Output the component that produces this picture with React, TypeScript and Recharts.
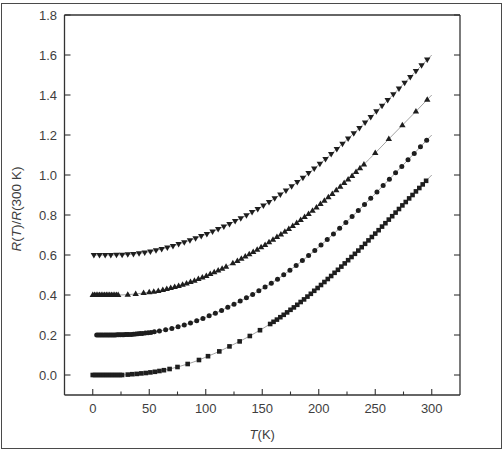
import React from 'react';
import { ComposedChart, Line, XAxis, YAxis } from 'recharts';

// ---------- data (T in K, R(T)/R(300 K) + offset) ----------
const X_TICKS = [0, 25, 50, 75, 100, 125, 150, 175, 200, 225, 250, 275, 300];
const Y_TICKS = [0, 0.2, 0.4, 0.6, 0.8, 1.0, 1.2, 1.4, 1.6, 1.8];
const X_DOMAIN: [number, number] = [-25, 325];
const Y_DOMAIN: [number, number] = [-0.1, 1.8];

// the last pair of each series (T = 300) is the end of the fitted line only
const SQUARES: [number, number][] = [
  [0, 0], [2, 0], [4, 0], [6, 0], [8, 0], [10, 0], [12, 0], [14, 0], [16, 0], [18, 0], [20, 0], [22, 0], [24, 0], [26, 0],
  [31, 0.002], [35, 0.004], [39, 0.0055], [43, 0.008], [47, 0.01], [51, 0.013], [55, 0.016], [59, 0.02], [63, 0.024], [68, 0.03],
  [75, 0.04], [84, 0.055], [94, 0.075], [102, 0.094], [112, 0.118], [121, 0.143], [130, 0.168], [139, 0.195], [148, 0.224], [157, 0.255],
  [160, 0.266], [163, 0.277], [166, 0.289], [169, 0.301], [172, 0.313], [175, 0.326], [178, 0.338], [181, 0.351], [184, 0.365], [187, 0.378],
  [190, 0.392], [193, 0.406], [196, 0.421], [199, 0.435], [202, 0.45], [205, 0.465], [208, 0.48], [211, 0.495], [214, 0.511], [217, 0.526],
  [220, 0.542], [223, 0.558], [226, 0.574], [229, 0.59], [232, 0.606], [235, 0.622], [238, 0.639], [241, 0.656], [244, 0.673], [247, 0.69],
  [250, 0.707], [253, 0.724], [256, 0.742], [259, 0.759], [262, 0.777], [265, 0.794], [268, 0.812], [271, 0.83], [274, 0.848], [277, 0.865],
  [280, 0.883], [283, 0.9], [286, 0.918], [289, 0.935], [292, 0.953], [295, 0.971], [300, 1.0],
];

const CIRCLES: [number, number][] = [
  [3.5, 0.2], [5, 0.2], [6.5, 0.2], [8, 0.2], [9.5, 0.2], [11, 0.2], [12.5, 0.2], [14, 0.2], [15.5, 0.2], [17, 0.2],
  [18.5, 0.2], [20, 0.2005], [21.5, 0.201], [23, 0.201], [24.5, 0.201], [26, 0.2015], [27.5, 0.2015], [29, 0.202], [30.5, 0.202], [32, 0.203],
  [34, 0.203], [36, 0.204], [38, 0.205], [40, 0.206], [42, 0.207], [44, 0.208], [46.5, 0.21], [49, 0.211], [51.5, 0.213], [54.5, 0.216],
  [59, 0.22], [64.5, 0.226], [70, 0.233], [75.5, 0.241], [81, 0.25], [86.5, 0.26], [92, 0.271], [97.5, 0.283], [103, 0.296], [108.5, 0.309],
  [114, 0.323], [119.5, 0.339], [125, 0.354], [130.5, 0.37], [136, 0.386], [141.5, 0.403], [147, 0.421], [152.5, 0.44], [158, 0.459], [163.5, 0.479],
  [169, 0.501], [174.5, 0.524], [180, 0.547], [185.5, 0.572], [191, 0.597], [196.5, 0.623], [202, 0.65], [207.5, 0.677], [213, 0.705], [218.5, 0.734],
  [224, 0.763], [229.5, 0.792], [235, 0.822], [240.5, 0.853], [246, 0.884], [251.5, 0.915], [257, 0.947], [262.5, 0.979], [268, 1.011], [273.5, 1.043],
  [279, 1.076], [284.5, 1.108], [290, 1.141], [295.5, 1.174], [300, 1.2],
];

const UP_TRIANGLES: [number, number][] = [
  [0, 0.4], [1.5, 0.4], [3, 0.4], [4.5, 0.4], [6, 0.4], [7.5, 0.4], [9, 0.4], [10.5, 0.4], [12, 0.4], [13.5, 0.4],
  [15, 0.4], [16.5, 0.4], [18, 0.4], [19.5, 0.4], [21, 0.4], [22.5, 0.4],
  [31, 0.402], [38, 0.405], [45, 0.41], [50, 0.414], [54, 0.417], [58, 0.421], [62, 0.426], [65.5, 0.43], [69, 0.435], [72.5, 0.44],
  [76, 0.446], [79.5, 0.452], [83, 0.458], [86.5, 0.465], [90, 0.472], [93.5, 0.48], [97, 0.488], [100.5, 0.496], [104, 0.505], [107.5, 0.514],
  [111, 0.523], [114.5, 0.532], [118, 0.542], [124, 0.559], [128, 0.571], [131.5, 0.582], [135, 0.593], [138.5, 0.604], [142, 0.615], [145.5, 0.627],
  [149, 0.639], [152.5, 0.651], [156, 0.664], [159.5, 0.677], [163, 0.69], [166.5, 0.703], [170, 0.717], [173.5, 0.731], [177, 0.745], [180.5, 0.76],
  [184, 0.775], [187.5, 0.79], [191, 0.806], [194.5, 0.822], [198, 0.838], [201.5, 0.855], [205, 0.872], [208.5, 0.889], [212, 0.906], [215.5, 0.924],
  [219, 0.942], [222.5, 0.96], [226, 0.978], [229.5, 0.996], [233, 1.015], [236.5, 1.034], [240, 1.053], [250, 1.11], [262, 1.18], [274, 1.249],
  [286, 1.318], [296, 1.377], [300, 1.4],
];

const DOWN_TRIANGLES: [number, number][] = [
  [1, 0.6], [6, 0.6], [11, 0.6], [16, 0.6], [21, 0.6005], [26, 0.601], [31, 0.603], [36, 0.605], [41, 0.608], [46, 0.612],
  [51, 0.617], [56, 0.623], [61, 0.63], [66, 0.637], [71, 0.645], [76, 0.654], [81, 0.663], [86, 0.673], [91, 0.683], [96, 0.694],
  [101, 0.705], [106, 0.717], [111, 0.729], [116, 0.742], [121, 0.755], [126, 0.769], [131, 0.783], [136, 0.798], [141, 0.814], [146, 0.83],
  [151, 0.847], [156, 0.865], [161, 0.883], [166, 0.902], [171, 0.922], [176, 0.943], [181, 0.964], [186, 0.986], [191, 1.009], [196, 1.032],
  [201, 1.056], [206, 1.08], [211, 1.105], [216, 1.13], [221, 1.156], [226, 1.182], [231, 1.208], [236, 1.235], [241, 1.262], [246, 1.29],
  [251, 1.318], [256, 1.346], [261, 1.374], [266, 1.403], [271, 1.432], [276, 1.461], [281, 1.49], [286, 1.519], [291, 1.548], [296, 1.577],
  [300, 1.6],
];

const LINE_END_T = 300;

// ---------- styling ----------
const FONT = '"Liberation Sans", Arial, Helvetica, sans-serif';
const TEXT = '#3e3e3e';
const AXIS = '#333333';
const MARK = '#1e1e1e';
const FIT = '#8a8a8a';

const toRows = (pts: [number, number][]) => pts.map(([t, v]) => ({ t, v }));

type Kind = 'square' | 'circle' | 'up' | 'down';

const makeDot = (kind: Kind) => (props: any) => {
  const { cx, cy, index, payload } = props;
  const key = `${kind}-${index}`;
  if (cx == null || cy == null || payload?.t >= LINE_END_T) return <g key={key} />;
  if (kind === 'square') {
    return <rect key={key} x={cx - 2.3} y={cy - 2.3} width={4.6} height={4.6} fill={MARK} />;
  }
  if (kind === 'circle') {
    return <circle key={key} cx={cx} cy={cy} r={2.5} fill={MARK} />;
  }
  if (kind === 'up') {
    return <polygon key={key} points={`${cx},${cy - 3.4} ${cx - 3.2},${cy + 2.1} ${cx + 3.2},${cy + 2.1}`} fill={MARK} />;
  }
  return <polygon key={key} points={`${cx - 3.2},${cy - 2.1} ${cx + 3.2},${cy - 2.1} ${cx},${cy + 3.4}`} fill={MARK} />;
};

const BottomTick = (props: any) => {
  const { x, y, payload } = props;
  const major = payload.value % 50 === 0;
  return (
    <g>
      <line x1={x} x2={x} y1={y} y2={y - (major ? 6 : 3.5)} stroke={AXIS} strokeWidth={1.1} />
      {major && (
        <text x={x} y={y + 17.5} textAnchor="middle" fontSize={13} fill={TEXT} fontFamily={FONT}>
          {payload.value}
        </text>
      )}
    </g>
  );
};

const TopTick = (props: any) => {
  const { x, y, payload } = props;
  const major = payload.value % 50 === 0;
  return <line x1={x} x2={x} y1={y} y2={y + (major ? 6 : 3.5)} stroke={AXIS} strokeWidth={1.1} />;
};

const LeftTick = (props: any) => {
  const { x, y, payload } = props;
  return (
    <g>
      <line x1={x} x2={x + 6} y1={y} y2={y} stroke={AXIS} strokeWidth={1.1} />
      <text x={x - 7.5} y={y} dy="0.36em" textAnchor="end" fontSize={13} fill={TEXT} fontFamily={FONT}>
        {Number(payload.value).toFixed(1)}
      </text>
    </g>
  );
};

const RightTick = (props: any) => {
  const { x, y } = props;
  return <line x1={x} x2={x - 6} y1={y} y2={y} stroke={AXIS} strokeWidth={1.1} />;
};

const XTitle = (props: any) => {
  const vb = props.viewBox || { x: 64.5, y: 395, width: 395.5, height: 56 };
  return (
    <text x={vb.x + vb.width / 2} y={vb.y + 43.5} textAnchor="middle" fontSize={13} fill={TEXT} fontFamily={FONT}>
      <tspan fontStyle="italic">T</tspan>(K)
    </text>
  );
};

const YTitle = (props: any) => {
  const vb = props.viewBox || { x: 0, y: 15, width: 64.5, height: 380 };
  const cx = vb.x + 16;
  const cy = vb.y + vb.height / 2 + 4;
  return (
    <text
      x={cx}
      y={cy}
      transform={`rotate(-90 ${cx} ${cy})`}
      textAnchor="middle"
      dominantBaseline="central"
      fontSize={13.5}
      fill={TEXT}
      fontFamily={FONT}
    >
      <tspan fontStyle="italic">R</tspan>(<tspan fontStyle="italic">T</tspan>)/<tspan fontStyle="italic">R</tspan>(300 K)
    </text>
  );
};

const SERIES: { name: string; pts: [number, number][]; kind: Kind }[] = [
  { name: 'squares', pts: SQUARES, kind: 'square' },
  { name: 'circles', pts: CIRCLES, kind: 'circle' },
  { name: 'up', pts: UP_TRIANGLES, kind: 'up' },
  { name: 'down', pts: DOWN_TRIANGLES, kind: 'down' },
];

export default function App() {
  return (
    <div style={{ position: 'absolute', left: 0, top: 0, width: 504, height: 451, background: '#fff' }}>
      <ComposedChart width={504} height={451} margin={{ top: 14, right: 43, bottom: 0, left: 0 }}>
        <XAxis
          xAxisId="b"
          dataKey="t"
          type="number"
          domain={X_DOMAIN}
          ticks={X_TICKS}
          interval={0}
          height={56}
          tickSize={0}
          tickMargin={0}
          tickLine={false}
          axisLine={{ stroke: AXIS, strokeWidth: 1.3 }}
          tick={<BottomTick />}
          label={<XTitle />}
          allowDataOverflow
        />
        <XAxis
          xAxisId="t"
          orientation="top"
          type="number"
          domain={X_DOMAIN}
          ticks={X_TICKS}
          interval={0}
          height={1}
          tickSize={0}
          tickMargin={0}
          tickLine={false}
          axisLine={{ stroke: AXIS, strokeWidth: 1.3 }}
          tick={<TopTick />}
          allowDataOverflow
        />
        <YAxis
          yAxisId="l"
          type="number"
          domain={Y_DOMAIN}
          ticks={Y_TICKS}
          interval={0}
          width={64.5}
          tickSize={0}
          tickMargin={0}
          tickLine={false}
          axisLine={{ stroke: AXIS, strokeWidth: 1.3 }}
          tick={<LeftTick />}
          label={<YTitle />}
          allowDataOverflow
        />
        <YAxis
          yAxisId="r"
          orientation="right"
          type="number"
          domain={Y_DOMAIN}
          ticks={Y_TICKS}
          interval={0}
          width={1}
          tickSize={0}
          tickMargin={0}
          tickLine={false}
          axisLine={{ stroke: AXIS, strokeWidth: 1.3 }}
          tick={<RightTick />}
          allowDataOverflow
        />
        {SERIES.map((s) => (
          <Line
            key={s.name}
            xAxisId="b"
            yAxisId="l"
            data={toRows(s.pts)}
            dataKey="v"
            type="monotone"
            stroke={FIT}
            strokeWidth={0.8}
            dot={makeDot(s.kind)}
            activeDot={false}
            isAnimationActive={false}
          />
        ))}
      </ComposedChart>
      <div
        style={{
          position: 'absolute',
          left: 0.5,
          top: 2.5,
          width: 501,
          height: 446.5,
          border: '1.5px solid #4a4a4a',
          boxSizing: 'border-box',
          pointerEvents: 'none',
        }}
      />
    </div>
  );
}
